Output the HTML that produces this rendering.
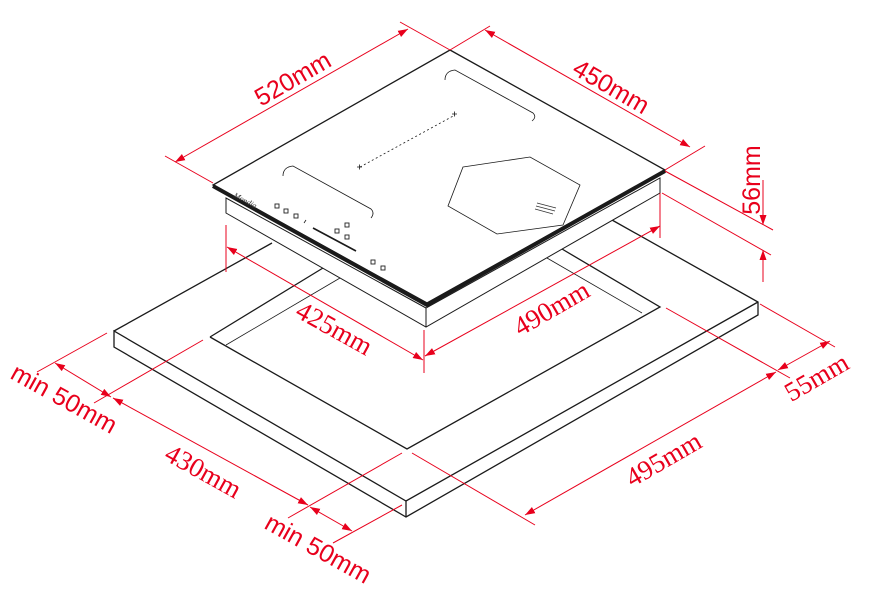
<!DOCTYPE html>
<html><head><meta charset="utf-8"><style>
html,body{margin:0;padding:0;background:#fff;}
svg{display:block;}
.k{stroke:#1a1a1a;stroke-width:1.3;fill:none;}
.kt{stroke:#1a1a1a;stroke-width:0.8;fill:none;}
.r{stroke:#e8001c;stroke-width:1;fill:none;}
.ts{font-family:"Liberation Sans",sans-serif;font-size:25px;fill:#e8001c;}
.tf{font-family:"Liberation Serif",serif;font-size:27px;fill:#e8001c;}
</style></head><body>
<svg width="878" height="593" viewBox="0 0 878 593" xmlns="http://www.w3.org/2000/svg">
<defs>
<marker id="a" viewBox="0 0 10 10" refX="10" refY="5" markerWidth="10" markerHeight="10" markerUnits="userSpaceOnUse" orient="auto-start-reverse"><path d="M0,1.5 L10,5 L0,8.5 z" fill="#e8001c"/></marker>
</defs>
<g class="k">
<path d="M114,331 L272,243"/>
<path d="M612,220 L758,302 L758,315 L406,517 L114,347 L114,331 L406,501 L758,302"/>
<path d="M406,501 L406,517"/>
<path d="M210,337 L323,268"/>
<path d="M562,249 L660,307 L407,449 L210,337"/>
</g>
<g class="kt">
<path d="M226,345 L340,278"/>
<path d="M547,258 L642,313"/>
</g>
<path d="M226,213 L426,327 L660,193 L660,178 L426,308 L226,198 Z" fill="#fff" stroke="#1a1a1a" stroke-width="1"/>
<path d="M426,308 L426,327"/>
<path d="M450,50 L665,170 L427,303 L213,185 Z" fill="#fff" stroke="#1a1a1a" stroke-width="1.3"/>
<path d="M213,186 L427,305 L665,171" fill="none" stroke="#1a1a1a" stroke-width="4"/>
<line x1="426" y1="308" x2="426" y2="327" stroke="#1a1a1a" stroke-width="1"/>
<g class="kt">
<path d="M445,80 Q445,71 455,70 L533,113 Q537,117 532,121"/>
<path d="M283,176 Q283,167 293,166 L371,209 Q375,213 371,218"/>
<path d="M463,167 L530,157 L580,185 L563,225 L497,234 L448,206 Z"/>
<path d="M360,167 L455,115" stroke-dasharray="2,2.5"/>
<path d="M357,167 h5 M359.5,164.5 v5 M452,114 h5 M454.5,111.5 v5"/>
<path d="M304,223 L306,220"/>
</g>
<path d="M313,228 L356,251" stroke="#1a1a1a" stroke-width="1.6"/>
<path d="M537,203 L556,208 M536,206 L555,211 M535,209 L553,214" stroke="#333" stroke-width="0.7"/>
<text x="233" y="197" font-family="Liberation Serif,serif" font-style="italic" font-size="8" fill="#333" transform="rotate(28 233 197)">Mondia</text>
<g fill="none" stroke="#222" stroke-width="0.9">
<rect x="275" y="204" width="4" height="4"/><rect x="284" y="209" width="4" height="4"/><rect x="294" y="214" width="4" height="4"/>
<rect x="345" y="223" width="4" height="4"/><rect x="335" y="229" width="4" height="4"/><rect x="345" y="235" width="4" height="4"/>
<rect x="371" y="260" width="4" height="4"/><rect x="381" y="266" width="4" height="4"/>
</g>
<g class="r">
<path d="M213,183 L165,156 M450,50 L400,22"/>
<path d="M175,162 L408,29" marker-start="url(#a)" marker-end="url(#a)"/>
<path d="M450,50 L490,26 M665,170 L705,146"/>
<path d="M485,30 L690,147" marker-start="url(#a)" marker-end="url(#a)"/>
<path d="M665,171 L773,230 M662,193 L771,255"/>
<path d="M763,180 L763,225" marker-end="url(#a)"/>
<path d="M763,282 L763,250" marker-end="url(#a)"/>
<path d="M226,225 L226,272 M424,330 L424,373"/>
<path d="M227,247 L423,360" marker-start="url(#a)" marker-end="url(#a)"/>
<path d="M660,193 L660,238"/>
<path d="M425,356 L660,226" marker-start="url(#a)" marker-end="url(#a)"/>
<path d="M760,304 L835,347 M666,308 L790,378"/>
<path d="M778,370 L830,341" marker-start="url(#a)" marker-end="url(#a)"/>
<path d="M412,453 L535,525"/>
<path d="M525,515 L776,372" marker-start="url(#a)" marker-end="url(#a)"/>
<path d="M107,333 L37,372 M203,340 L94,403"/>
<path d="M55,363 L111,397" marker-start="url(#a)" marker-end="url(#a)"/>
<path d="M113,398 L308,505" marker-start="url(#a)" marker-end="url(#a)"/>
<path d="M402,453 L288,518 M402,505 L333,543"/>
<path d="M310,507 L352,531" marker-start="url(#a)" marker-end="url(#a)"/>
</g>
<text class="ts" text-anchor="middle" transform="translate(297,86) rotate(-30)">520mm</text>
<text class="ts" text-anchor="middle" transform="translate(607,94) rotate(30)">450mm</text>
<text class="ts" text-anchor="middle" transform="translate(760,180) rotate(-90)">56mm</text>
<text class="tf" text-anchor="middle" transform="translate(330,336) rotate(29)">425mm</text>
<text class="tf" text-anchor="middle" transform="translate(556,316) rotate(-30)">490mm</text>
<text class="tf" text-anchor="middle" transform="translate(821,385) rotate(-30)">55mm</text>
<text class="tf" text-anchor="middle" transform="translate(668,467) rotate(-30)">495mm</text>
<text class="tf" text-anchor="middle" transform="translate(199,479) rotate(29)">430mm</text>
<text class="ts" text-anchor="middle" transform="translate(60,406) rotate(29)">min 50mm</text>
<text class="ts" text-anchor="middle" transform="translate(314,556) rotate(29)">min 50mm</text>
</svg>
</body></html>
